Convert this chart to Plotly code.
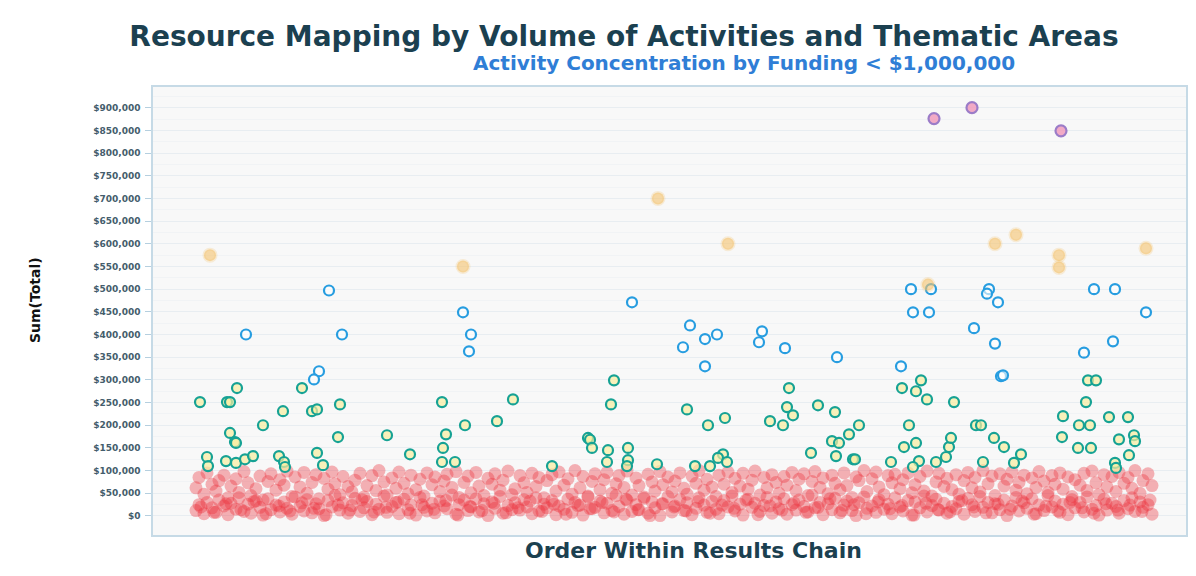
import plotly.graph_objects as go

# ---------------- data (order position, value in $ thousands) ----------------
purple_x = [934, 972, 1061]
purple_y = [876, 900, 849]

orange_x = [210, 463, 658, 728, 928, 995, 1016, 1059, 1059, 1146]
orange_y = [575, 550, 700, 600, 510, 600, 620, 575, 548, 590]

blue_x = [329, 246, 342, 319, 314, 463, 471, 469, 632, 690, 683, 705, 717, 705, 762, 759,
          785, 837, 901, 913, 929, 974, 995, 998, 1001, 1003, 1084, 1113, 1146, 911, 931,
          989, 987, 1094, 1115]
blue_y = [497, 400, 400, 319, 301, 449, 400, 363, 471, 420, 372, 390, 400, 330, 407, 383,
          370, 350, 330, 449, 449, 414, 380, 471, 308, 310, 360, 385, 449, 500, 500,
          500, 490, 500, 500]

green_x = [200, 237, 227, 230, 283, 263, 302, 312, 317, 340, 230, 235, 236, 338, 387, 207,
           208, 226, 236, 245, 253, 279, 284, 285, 317, 323, 410, 442, 446, 443, 442, 455,
           465, 497, 513, 552, 588, 590, 592, 607, 608, 611, 614, 628, 628, 627, 657, 687,
           695, 708, 710, 725, 723, 718, 727, 770, 783, 789, 787, 793, 818, 835, 859, 849,
           832, 839, 811, 836, 853, 855, 921, 902, 916, 927, 954, 909, 916, 904, 891, 919,
           936, 946, 949, 951, 976, 981, 994, 1004, 983, 1021, 1014, 1063, 1062, 1079, 1090,
           1078, 1091, 1086, 1088, 1096, 1109, 1128, 1119, 1134, 1135, 1129, 1115, 1116, 913]
green_y = [251, 282, 251, 251, 231, 200, 282, 231, 235, 246, 183, 163, 161, 174, 178, 130,
           110, 121, 117, 125, 132, 132, 119, 108, 139, 112, 136, 251, 180, 150, 119, 119,
           200, 209, 257, 110, 172, 168, 150, 119, 145, 246, 299, 150, 123, 110, 114, 235,
           110, 200, 110, 216, 136, 128, 119, 209, 200, 282, 240, 222, 244, 229, 200, 180,
           165, 161, 139, 132, 125, 125, 299, 282, 275, 257, 251, 200, 161, 152, 119, 121,
           119, 130, 152, 172, 200, 200, 172, 152, 119, 136, 117, 220, 174, 200, 200,
           150, 150, 251, 299, 299, 218, 218, 169, 178, 165, 134, 117, 106, 108]

red_x = [196, 199, 204, 207, 212, 216, 219, 224, 228, 231,
         236, 239, 244, 248, 251, 256, 260, 263, 268, 271,
         276, 280, 284, 287, 292, 295, 300, 304, 307, 312,
         316, 319, 324, 328, 332, 335, 340, 343, 348, 352,
         355, 360, 364, 367, 372, 376, 379, 384, 387, 392,
         396, 399, 404, 408, 411, 416, 420, 424, 427, 432,
         435, 440, 444, 447, 452, 456, 459, 464, 468, 471,
         476, 479, 484, 488, 492, 495, 500, 503, 508, 512,
         515, 520, 524, 527, 532, 536, 539, 544, 547, 552,
         556, 559, 564, 568, 572, 575, 580, 583, 588, 592,
         595, 600, 604, 607, 612, 616, 619, 624, 627, 632,
         636, 639, 644, 648, 652, 655, 660, 663, 668, 672,
         675, 680, 684, 687, 692, 696, 699, 704, 707, 712,
         716, 719, 724, 728, 732, 735, 740, 743, 748, 752,
         755, 760, 764, 767, 772, 776, 779, 784, 787, 792,
         796, 799, 804, 808, 812, 815, 820, 823, 828, 832,
         835, 840, 844, 847, 852, 856, 859, 864, 867, 872,
         876, 879, 884, 888, 892, 895, 900, 903, 908, 912,
         915, 920, 924, 927, 932, 936, 939, 944, 947, 952,
         956, 959, 964, 968, 972, 975, 980, 983, 988, 992,
         995, 1000, 1004, 1007, 1012, 1016, 1019, 1024, 1027, 1032,
         1036, 1039, 1044, 1048, 1052, 1055, 1060, 1063, 1068, 1072,
         1075, 1080, 1084, 1087, 1092, 1096, 1099, 1104, 1107, 1112,
         1116, 1119, 1124, 1128, 1132, 1135, 1140, 1143, 1148, 1152]

red_low = [12, 25, 5, 30, 18, 8, 35, 22, 3, 28,
           15, 40, 10, 26, 6, 33, 19, 2, 38, 14,
           24, 9, 31, 17, 4, 42, 21, 11, 36, 7,
           27, 16, 1, 34, 20, 45, 13, 29, 6, 23,
           39, 10, 18, 32, 3, 26, 15, 44, 8, 21,
           30, 5, 37, 14, 24, 2, 41, 19, 11, 28,
           7, 33, 22, 16, 46, 4, 25, 35, 12, 20,
           38, 9, 27, 1, 31, 17, 43, 6, 23, 14,
           29, 13, 36, 20, 5, 40, 11, 26, 18, 34,
           3, 22, 15, 37, 8, 30, 24, 2, 42, 16,
           19, 33, 7, 28, 12, 45, 21, 4, 35, 10,
           25, 14, 39, 6, 31, 18, 1, 27, 43, 9,
           22, 36, 12, 29, 3, 17, 40, 24, 8, 32,
           15, 5, 34, 20, 44, 11, 26, 2, 37, 19,
           28, 10, 23, 41, 6, 31, 16, 38, 4, 25,
           13, 35, 21, 9, 46, 18, 30, 3, 27, 14,
           39, 7, 24, 33, 12, 1, 29, 42, 17, 22,
           8, 36, 15, 26, 5, 40, 20, 11, 34, 2,
           31, 18, 44, 9, 23, 37, 13, 28, 6, 21,
           16, 32, 4, 39, 25, 10, 43, 19, 30, 7,
           27, 14, 35, 1, 22, 41, 11, 29, 17, 38,
           5, 24, 12, 45, 20, 33, 8, 26, 3, 36,
           18, 30, 9, 42, 15, 23, 2, 37, 13, 28,
           21, 6, 34, 16, 40, 10, 31, 19, 25, 4]

red_high = [62, 85, 48, 95, 70, 55, 78, 90, 40, 66,
            82, 52, 98, 73, 45, 60, 88, 35, 76, 93,
            57, 80, 68, 99, 43, 86, 64, 96, 50, 74,
            91, 38, 83, 59, 97, 71, 47, 87, 65, 53,
            79, 94, 42, 67, 89, 56, 100, 75, 46, 84,
            61, 97, 72, 49, 90, 58, 81, 44, 95, 69,
            86, 54, 77, 92, 63, 98, 41, 74, 88, 51,
            96, 66, 45, 83, 70, 93, 57, 79, 99, 47,
            60, 89, 73, 52, 94, 65, 85, 40, 78, 91,
            55, 97, 68, 82, 48, 100, 62, 87, 44, 76,
            93, 58, 80, 96, 50, 71, 89, 63, 99, 46,
            84, 67, 42, 92, 75, 55, 98, 69, 86, 53,
            77, 95, 61, 48, 88, 72, 100, 57, 81, 64,
            43, 90, 70, 97, 52, 83, 66, 94, 59, 79,
            99, 46, 85, 62, 91, 74, 50, 87, 68, 96,
            56, 81, 93, 45, 76, 98, 63, 84, 49, 90,
            72, 58, 95, 67, 41, 86, 78, 100, 54, 82,
            97, 64, 47, 89, 73, 92, 60, 80, 95, 51,
            69, 87, 55, 99, 44, 75, 94, 65, 83, 58,
            91, 48, 78, 96, 62, 85, 53, 100, 71, 88,
            45, 93, 66, 81, 97, 57, 74, 90, 49, 84,
            63, 98, 77, 52, 89, 70, 95, 59, 86, 43,
            80, 68, 94, 56, 99, 73, 47, 91, 64, 87,
            54, 96, 72, 85, 61, 100, 50, 78, 93, 67]

# extra low-band activities (dense region near the axis)
red_x2 = [201, 214, 226, 241, 254, 266, 279, 290, 302, 314,
          326, 338, 350, 362, 374, 386, 398, 410, 422, 434,
          446, 458, 470, 482, 494, 506, 518, 530, 542, 554,
          566, 578, 590, 602, 614, 626, 638, 650, 662, 674,
          686, 698, 710, 722, 734, 746, 758, 770, 782, 794,
          806, 818, 830, 842, 854, 866, 878, 890, 902, 914,
          926, 938, 950, 962, 974, 986, 998, 1010, 1022, 1034,
          1046, 1058, 1070, 1082, 1094, 1106, 1118, 1130, 1142, 1150]
red_y2 = [20, 8, 27, 14, 32, 5, 22, 11, 29, 17,
          3, 24, 13, 36, 9, 19, 31, 6, 25, 15,
          34, 2, 21, 12, 28, 7, 18, 33, 10, 26,
          4, 23, 16, 30, 9, 37, 14, 1, 27, 20,
          11, 32, 6, 24, 17, 35, 3, 22, 13, 29,
          8, 19, 38, 12, 25, 5, 31, 16, 23, 2,
          28, 14, 9, 34, 20, 7, 26, 15, 33, 4,
          21, 11, 30, 18, 6, 27, 13, 24, 10, 35]

tick_vals = [0, 50, 100, 150, 200, 250, 300, 350, 400, 450, 500, 550, 600, 650, 700, 750, 800, 850, 900]
tick_text = ["$0", "$50,000", "$100,000", "$150,000", "$200,000", "$250,000", "$300,000",
             "$350,000", "$400,000", "$450,000", "$500,000", "$550,000", "$600,000",
             "$650,000", "$700,000", "$750,000", "$800,000", "$850,000", "$900,000"]

K = 1000
def dollars(vals):
    return [v * K for v in vals]

fig = go.Figure()

fig.add_trace(go.Scatter(
    x=red_x + red_x + red_x2, y=dollars(red_low + red_high + red_y2), mode="markers",
    marker=dict(symbol="circle", size=13, color="rgba(236,48,58,0.36)",
                line=dict(width=0)),
    hoverinfo="skip", showlegend=False))

fig.add_trace(go.Scatter(
    x=green_x, y=dollars(green_y), mode="markers",
    marker=dict(symbol="circle", size=10, color="rgba(248,238,160,0.7)",
                line=dict(color="#16a294", width=2.2)),
    showlegend=False))

fig.add_trace(go.Scatter(
    x=blue_x, y=dollars(blue_y), mode="markers",
    marker=dict(symbol="circle", size=10, color="rgba(255,255,255,0.6)",
                line=dict(color="#279de0", width=2.2)),
    showlegend=False))

fig.add_trace(go.Scatter(
    x=orange_x, y=dollars(orange_y), mode="markers",
    marker=dict(symbol="circle", size=12, color="rgba(245,195,110,0.6)",
                line=dict(color="rgba(245,195,110,0.25)", width=3)),
    showlegend=False))

fig.add_trace(go.Scatter(
    x=purple_x, y=dollars(purple_y), mode="markers",
    marker=dict(symbol="circle", size=11, color="rgba(240,150,185,0.8)",
                line=dict(color="#9b7cc8", width=2.2)),
    showlegend=False))

# the page body adds an 8px offset; the figure is sized to fit the 1196x576 window
fig.update_layout(
    width=1188, height=568,
    margin=dict(l=145, r=10, t=79, b=41, autoexpand=False),
    paper_bgcolor="white",
    plot_bgcolor="#f8f8f8",
    title=dict(text="Resource Mapping by Volume of Activities and Thematic Areas",
               x=0.5185, xanchor="center", y=0.951, yanchor="middle", automargin=False,
               font=dict(family="DejaVu Sans", size=28, color="#1b4050", weight="bold")),
    annotations=[
        dict(text="Activity Concentration by Funding < $1,000,000",
             xref="paper", yref="paper", x=0.572, y=1.054, xanchor="center", yanchor="middle",
             showarrow=False,
             font=dict(family="DejaVu Sans", size=20, color="#2f7ed6", weight="bold")),
        dict(text="Sum(Total)", xref="paper", yref="paper", x=-0.114, y=0.525,
             xanchor="center", yanchor="middle", textangle=-90, showarrow=False,
             font=dict(family="DejaVu Sans", size=14, color="#111111", weight="bold")),
        dict(text="Order Within Results Chain", xref="paper", yref="paper", x=0.523, y=-0.034,
             xanchor="center", yanchor="middle", showarrow=False,
             font=dict(family="DejaVu Sans", size=22, color="#1b4050", weight="bold")),
    ],
    xaxis=dict(range=[153, 1186], showticklabels=False, ticks="", showgrid=False, zeroline=False,
               automargin=False,
               showline=True, linecolor="#c6dae6", linewidth=1.5, mirror=True),
    yaxis=dict(range=[-41900, 945600], tickvals=dollars(tick_vals), ticktext=tick_text,
               automargin=False, ticklabelstandoff=3,
               ticks="outside", ticklen=6, tickcolor="#b5cfdf", zeroline=False,
               showgrid=True, gridcolor="#e8edf1", gridwidth=1,
               minor=dict(tickvals=dollars([25, 75, 125, 175, 225, 275, 325, 375, 425, 475, 525,
                                             575, 625, 675, 725, 775, 825, 875, 925]),
                          showgrid=True, gridcolor="#f1f3f5", ticks=""),
               showline=True, linecolor="#c6dae6", linewidth=1.5, mirror=True,
               tickfont=dict(family="DejaVu Sans", size=9, color="#445d6c", weight="bold")),
)

fig.write_html("out.html")
